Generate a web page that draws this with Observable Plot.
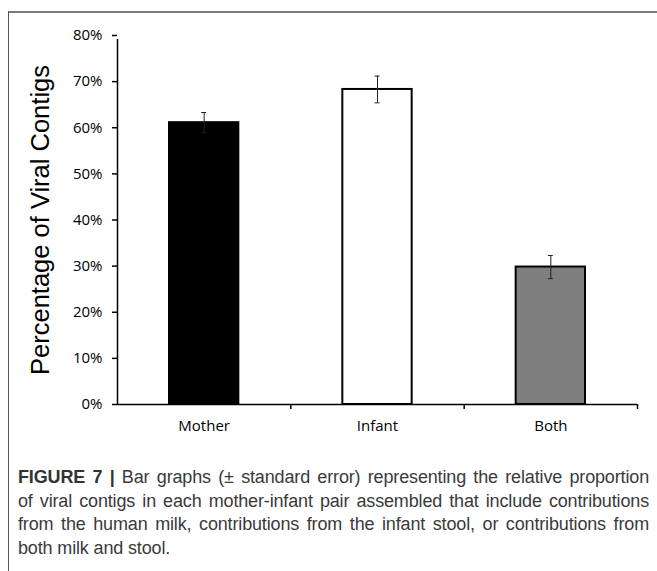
<!DOCTYPE html>
<html>
<head>
<meta charset="utf-8">
<script src="https://cdn.jsdelivr.net/npm/d3@7"></script>
<script src="https://cdn.jsdelivr.net/npm/@observablehq/plot@0.6"></script>
<style>
  html, body { margin: 0; padding: 0; background: #fff; }
  #page { position: relative; width: 657px; height: 571px; overflow: hidden; background: #fff; }
  #chart { position: absolute; left: 0; top: 0; }
  #topline { position: absolute; left: 8px; top: 11px; width: 649px; height: 2px; background: #7a7a7a; z-index: 2; }
  #leftline { position: absolute; left: 8px; top: 11px; width: 1px; height: 560px; background: #555; z-index: 2; }
  #caption { position: absolute; left: 18px; top: 466px; width: 631px; font-family: "Liberation Sans", Arial, sans-serif; font-size: 18px; line-height: 23.5px; color: #3a3a3a; letter-spacing: -0.15px; }
  #caption .ln { white-space: nowrap; text-align: justify; text-align-last: justify; }
  #caption .ln.last { text-align: left; text-align-last: left; }
  #caption b { color: #333; }
</style>
</head>
<body>
<div id="page">
  <div id="chart"></div>
  <div id="topline"></div>
  <div id="leftline"></div>
  <div id="caption">
    <div class="ln"><b>FIGURE 7 |</b> Bar graphs (± standard error) representing the relative proportion</div>
    <div class="ln">of viral contigs in each mother-infant pair assembled that include contributions</div>
    <div class="ln">from the human milk, contributions from the infant stool, or contributions from</div>
    <div class="ln last">both milk and stool.</div>
  </div>
</div>
<script>
// Data
const categories = ["Mother", "Infant", "Both"];
const means = [0.611, 0.683, 0.298];
const errors = [0.022, 0.029, 0.025];
const fills = ["#000000", "#ffffff", "#7f7f7f"];
const yTicks = [0, 0.1, 0.2, 0.3, 0.4, 0.5, 0.6, 0.7, 0.8];
const yTitle = "Percentage of Viral Contigs";

const data = categories.map((c, i) => ({cat: c, mean: means[i], se: errors[i], fill: fills[i]}));

const W = 657, H = 445;
const mL = 117, mR = 20, mT = 35, mB = 41;
const pInner = 0.6, pOuter = 0.3;
const step = (W - mL - mR) / (categories.length - pInner + 2 * pOuter);
const bandwidth = step * (1 - pInner);
const capW = 5;
const axisFont = "'Open Sans', sans-serif";

const plot = Plot.plot({
  width: W,
  height: H,
  marginLeft: mL,
  marginRight: mR,
  marginTop: mT,
  marginBottom: mB,
  style: {background: "transparent", fontFamily: axisFont, fontSize: "15px", color: "#000"},
  x: {domain: categories, type: "band", paddingInner: pInner, paddingOuter: pOuter, round: false, label: null},
  y: {domain: [0, 0.8], label: null},
  marks: [
    Plot.barY(data, {x: "cat", y: "mean", fill: "fill", stroke: "#000", strokeWidth: 2}),
    // error bars
    Plot.ruleX(data, {x: "cat", y1: d => d.mean - d.se, y2: d => d.mean + d.se, stroke: "#222", strokeWidth: 1}),
    Plot.tickY(data, {x: "cat", y: d => d.mean + d.se, stroke: "#222", strokeWidth: 1, inset: (bandwidth - capW) / 2}),
    Plot.tickY(data, {x: "cat", y: d => d.mean - d.se, stroke: "#222", strokeWidth: 1, inset: (bandwidth - capW) / 2}),
    // y axis
    Plot.axisY({ticks: yTicks, tickFormat: d3.format(".0%"), tickSize: 5, tickPadding: 10, strokeWidth: 1.5, label: null, fontSize: 15}),
    // y axis line (with small tick below the x axis)
    Plot.ruleX([categories[0]], {x: d => d, y1: 0.8, dx: -step / 2, insetBottom: -4, stroke: "#000", strokeWidth: 1.5}),
    // x axis line
    Plot.ruleY([0], {stroke: "#000", strokeWidth: 1.5}),
    // category boundary ticks
    Plot.ruleX(categories.slice(1), {x: d => d, y1: 0, dx: -step / 2, insetBottom: -5, stroke: "#000", strokeWidth: 1.5}),
    Plot.ruleX([categories[categories.length - 1]], {x: d => d, y1: 0, dx: step / 2, insetBottom: -5, stroke: "#000", strokeWidth: 1.5}),
    // category labels
    Plot.axisX({tickSize: 0, tickPadding: 16, label: null, fontSize: 15}),
    // y axis title
    Plot.text([yTitle], {frameAnchor: "left", textAnchor: "middle", lineAnchor: "middle", rotate: -90, dx: -77, text: d => d, fontSize: 25.5, fontFamily: "'Liberation Sans', Arial, sans-serif", fill: "#000"})
  ]
});
document.getElementById("chart").appendChild(plot);
</script>
</body>
</html>
